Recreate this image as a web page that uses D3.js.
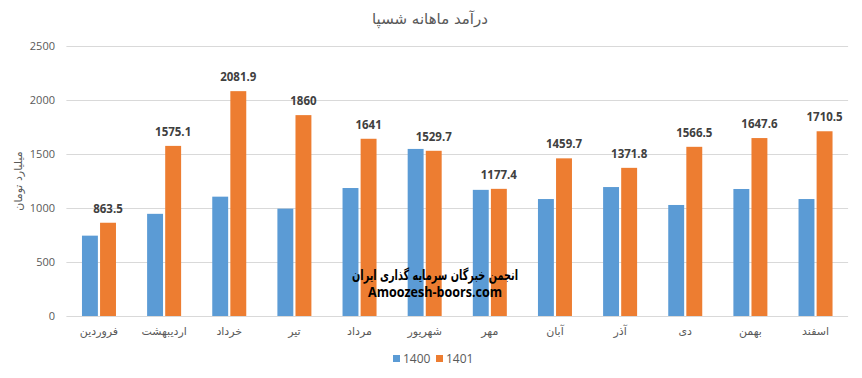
<!DOCTYPE html>
<html><head><meta charset="utf-8">
<script src="https://cdn.jsdelivr.net/npm/d3@7"></script>
<style>
body{margin:0;background:#fff;}
svg{display:block;font-family:"Open Sans","DejaVu Sans",sans-serif;}
</style></head>
<body><div id="chart"></div>
<script>
const months = ["فروردین","اردیبهشت","خرداد","تیر","مرداد","شهریور","مهر","آبان","آذر","دی","بهمن","اسفند"];
const series = ["1400","1401"];
const values1400 = [744,946,1105,994,1185,1547,1168,1083,1194,1028,1176,1083];
const values1401 = [863.5,1575.1,2081.9,1860,1641,1529.7,1177.4,1459.7,1371.8,1566.5,1647.6,1710.5];
const labels1401 = ["863.5","1575.1","2081.9","1860","1641","1529.7","1177.4","1459.7","1371.8","1566.5","1647.6","1710.5"];
const yTicks = [0,500,1000,1500,2000,2500];
const colors = ["#5B9BD5","#ED7D31"];
const titleText = "درآمد ماهانه شسپا";
const yTitle = "میلیارد تومان";
const wm1 = "انجمن خبرگان سرمایه گذاری ایران";
const wm2 = "Amoozesh-boors.com";

const W=862,H=378;
const L=66.4,R=848.1,T=46,B=316;
const svg=d3.select("#chart").append("svg").attr("width",W).attr("height",H);
svg.append("rect").attr("width",W).attr("height",H).attr("fill","#fff");

const y=d3.scaleLinear().domain([0,2500]).range([B,T]);
const x0=d3.scaleBand().domain(months).range([L,R]).paddingInner(0.478).paddingOuter(0.239);
const x1=d3.scaleBand().domain(series).range([0,x0.bandwidth()]).paddingInner(0.12);

svg.append("g").selectAll("line").data(yTicks.slice(1)).join("line")
  .attr("x1",L).attr("x2",R).attr("y1",d=>Math.round(y(d))+0.5).attr("y2",d=>Math.round(y(d))+0.5)
  .attr("stroke","#d9d9d9").attr("stroke-width",1);
svg.append("line").attr("x1",L).attr("x2",R).attr("y1",Math.round(y(0))+0.5).attr("y2",Math.round(y(0))+0.5)
  .attr("stroke","#d9d9d9");

svg.append("g").selectAll("text").data(yTicks).join("text")
  .attr("x",55).attr("y",d=>y(d)).attr("dy","0.35em").attr("text-anchor","end")
  .attr("font-size",11).attr("fill","#595959").text(d=>d);

const data=months.map((m,i)=>({m,vals:[values1400[i],values1401[i]],lab:labels1401[i]}));
const g=svg.append("g").selectAll("g").data(data).join("g").attr("transform",d=>`translate(${x0(d.m)},0)`);
g.selectAll("rect").data(d=>d.vals.map((v,j)=>({s:series[j],v,j}))).join("rect")
  .attr("x",d=>x1(d.s)).attr("width",x1.bandwidth())
  .attr("y",d=>y(d.v)).attr("height",d=>y(0)-y(d.v)).attr("fill",d=>colors[d.j]);
g.append("text").attr("x",x1("1401")+x1.bandwidth()/2).attr("y",d=>y(d.vals[1])-10)
  .attr("text-anchor","middle").attr("font-size",11.5).attr("font-weight","bold").attr("fill","#404040")
  .text(d=>d.lab);

svg.append("g").selectAll("text").data(months).join("text")
  .attr("x",d=>x0(d)+x0.bandwidth()/2).attr("y",335).attr("text-anchor","middle")
  .attr("font-size",11).attr("fill","#595959").attr("font-family","'DejaVu Sans',sans-serif").text(d=>d);

svg.append("text").attr("x",430).attr("y",24).attr("text-anchor","middle").attr("font-size",15)
  .attr("fill","#595959").attr("font-family","'DejaVu Sans',sans-serif").text(titleText);

svg.append("text").attr("transform","translate(22,181) rotate(-90)").attr("text-anchor","middle")
  .attr("font-size",11).attr("fill","#595959").attr("font-family","'DejaVu Sans',sans-serif").text(yTitle);

svg.append("text").attr("x",435).attr("y",280).attr("text-anchor","middle").attr("font-size",14)
  .attr("font-weight","bold").attr("fill","#000").attr("font-family","'DejaVu Sans',sans-serif")
  .attr("textLength",166).attr("lengthAdjust","spacingAndGlyphs").text(wm1);
svg.append("text").attr("x",435).attr("y",297).attr("text-anchor","middle").attr("font-size",14)
  .attr("font-weight","bold").attr("fill","#000")
  .attr("textLength",134).attr("lengthAdjust","spacingAndGlyphs").text(wm2);

const lg=svg.append("g").selectAll("g").data(series).join("g")
  .attr("transform",(d,i)=>`translate(${393+i*43},355)`);
lg.append("rect").attr("width",7).attr("height",7).attr("fill",(d,i)=>colors[i]);
lg.append("text").attr("x",10).attr("y",3.5).attr("dy","0.35em").attr("font-size",12).attr("fill","#595959").text(d=>d);
</script></body></html>
